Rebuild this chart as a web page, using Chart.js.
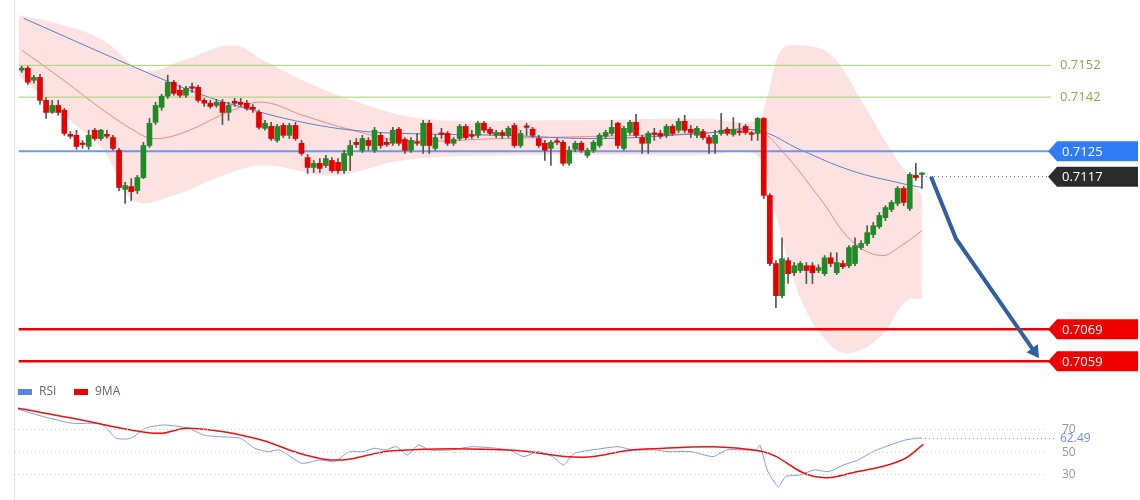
<!DOCTYPE html>
<html>
<head>
<meta charset="utf-8">
<script src="https://cdn.jsdelivr.net/npm/chart.js@4.4.1/dist/chart.umd.min.js"></script>
<style>
  body { margin: 0; background: #fff; }
  #wrap { position: relative; width: 1140px; height: 500px; }
  #price-box { position: absolute; left: 0; top: 0; width: 1140px; height: 380px; }
  #rsi-box { position: absolute; left: 0; top: 380px; width: 1140px; height: 120px; }
</style>
</head>
<body>
<div id="wrap">
  <div id="price-box"><canvas id="price-chart"></canvas></div>
  <div id="rsi-box"><canvas id="rsi-chart"></canvas></div>
</div>
<script>
// candles, oldest first (bar index = position in the arrays)
const opens = [0.71505,0.71511,0.71473,0.71482,0.71410,0.71372,0.71394,0.71379,0.71303,0.71300,0.71275,0.71265,0.71316,0.71290,0.71303,0.71293,0.71253,0.71130,0.71139,0.71126,0.71167,0.71268,0.71341,0.71388,0.71423,0.71467,0.71442,0.71426,0.71451,0.71451,0.71410,0.71401,0.71394,0.71404,0.71372,0.71407,0.71404,0.71401,0.71388,0.71372,0.71322,0.71328,0.71284,0.71331,0.71300,0.71331,0.71275,0.71230,0.71199,0.71212,0.71205,0.71221,0.71215,0.71189,0.71237,0.71278,0.71253,0.71284,0.71253,0.71300,0.71278,
  0.71275,0.71319,0.71287,0.71253,0.71278,0.71268,0.71338,0.71259,0.71306,0.71306,0.71275,0.71290,0.71328,0.71300,0.71300,0.71338,0.71319,0.71300,0.71309,0.71300,0.71331,0.71268,0.71328,0.71319,0.71290,0.71275,0.71259,0.71281,0.71278,0.71212,
  0.71256,0.71275,0.71237,0.71253,0.71268,0.71297,0.71306,0.71338,0.71259,0.71309,0.71341,0.71293,0.71275,0.71306,0.71306,0.71300,0.71328,0.71316,0.71344,0.71319,0.71300,0.71312,0.71293,0.71275,0.71306,0.71319,0.71303,0.71312,0.71328,0.71306,0.71306,0.71353,
  0.71111,0.70897,0.70796,0.70906,0.70868,0.70875,0.70890,0.70890,0.70875,0.70865,0.70915,0.70868,0.70897,0.70890,0.70897,0.70947,0.70960,0.70988,0.71013,0.71041,0.71067,0.71086,0.71133,0.71070,0.71174,0.71177];
const closes = [0.71511,0.71467,0.71482,0.71410,0.71372,0.71394,0.71372,0.71306,0.71297,0.71265,0.71271,0.71300,0.71290,0.71316,0.71297,0.71259,0.71136,0.71142,0.71123,0.71167,0.71268,0.71338,0.71394,0.71423,0.71467,0.71432,0.71426,0.71448,0.71448,0.71410,0.71401,0.71391,0.71404,0.71372,0.71394,0.71401,0.71397,0.71385,0.71382,0.71325,0.71338,0.71290,0.71328,0.71300,0.71331,0.71290,0.71243,0.71199,0.71212,0.71196,0.71227,0.71189,0.71189,0.71243,0.71268,0.71271,0.71290,0.71268,0.71316,0.71268,0.71271,
  0.71316,0.71275,0.71253,0.71284,0.71275,0.71338,0.71268,0.71293,0.71303,0.71275,0.71287,0.71328,0.71293,0.71297,0.71338,0.71316,0.71306,0.71309,0.71300,0.71322,0.71268,0.71306,0.71325,0.71300,0.71268,0.71253,0.71278,0.71278,0.71212,0.71253,
  0.71275,0.71253,0.71253,0.71278,0.71300,0.71309,0.71325,0.71268,0.71322,0.71341,0.71300,0.71275,0.71306,0.71303,0.71297,0.71328,0.71306,0.71344,0.71316,0.71309,0.71322,0.71293,0.71275,0.71300,0.71316,0.71306,0.71319,0.71309,0.71309,0.71303,0.71353,0.71111,
  0.70897,0.70796,0.70912,0.70865,0.70890,0.70897,0.70875,0.70868,0.70884,0.70915,0.70897,0.70900,0.70887,0.70947,0.70953,0.70960,0.70994,0.71016,0.71048,0.71073,0.71089,0.71133,0.71089,0.71177,0.71167,0.71177];
const highs = [0.71517,0.71517,0.71489,0.71492,0.71419,0.71410,0.71410,0.71385,0.71312,0.71316,0.71284,0.71316,0.71322,0.71319,0.71316,0.71300,0.71259,0.71152,0.71164,0.71174,0.71278,0.71353,0.71404,0.71429,0.71489,0.71473,0.71457,0.71454,0.71464,0.71457,0.71416,0.71410,0.71413,0.71413,0.71404,0.71416,0.71416,0.71410,0.71397,0.71379,0.71347,0.71341,0.71334,0.71338,0.71338,0.71341,0.71284,0.71240,0.71221,0.71227,0.71237,0.71230,0.71227,0.71253,0.71284,0.71290,0.71300,0.71293,0.71325,0.71309,0.71290,
  0.71325,0.71325,0.71293,0.71293,0.71306,0.71347,0.71347,0.71303,0.71322,0.71312,0.71293,0.71334,0.71334,0.71316,0.71344,0.71344,0.71325,0.71316,0.71316,0.71328,0.71338,0.71316,0.71338,0.71325,0.71300,0.71284,0.71284,0.71290,0.71284,0.71265,
  0.71281,0.71281,0.71259,0.71284,0.71306,0.71316,0.71347,0.71341,0.71328,0.71347,0.71366,0.71300,0.71312,0.71322,0.71316,0.71334,0.71334,0.71353,0.71363,0.71331,0.71328,0.71319,0.71300,0.71316,0.71369,0.71325,0.71356,0.71338,0.71334,0.71312,0.71356,0.71356,
  0.71117,0.70906,0.70978,0.70915,0.70900,0.70903,0.70900,0.70900,0.70893,0.70922,0.70931,0.70931,0.70906,0.70953,0.70978,0.70969,0.71016,0.71026,0.71057,0.71079,0.71095,0.71139,0.71139,0.71183,0.71212,0.71183];
const lows = [0.71498,0.71460,0.71464,0.71397,0.71353,0.71369,0.71363,0.71300,0.71290,0.71256,0.71259,0.71256,0.71284,0.71284,0.71290,0.71253,0.71126,0.71086,0.71095,0.71117,0.71164,0.71262,0.71334,0.71379,0.71416,0.71426,0.71419,0.71419,0.71435,0.71404,0.71391,0.71385,0.71388,0.71334,0.71347,0.71391,0.71391,0.71379,0.71372,0.71319,0.71316,0.71284,0.71278,0.71293,0.71290,0.71284,0.71237,0.71180,0.71183,0.71183,0.71199,0.71183,0.71180,0.71180,0.71189,0.71262,0.71246,0.71253,0.71246,0.71259,0.71265,
  0.71268,0.71268,0.71243,0.71246,0.71268,0.71243,0.71243,0.71253,0.71290,0.71268,0.71268,0.71284,0.71287,0.71290,0.71293,0.71309,0.71300,0.71293,0.71290,0.71293,0.71262,0.71262,0.71300,0.71293,0.71262,0.71221,0.71205,0.71271,0.71205,0.71205,
  0.71249,0.71246,0.71230,0.71246,0.71262,0.71290,0.71300,0.71259,0.71253,0.71303,0.71293,0.71243,0.71243,0.71284,0.71290,0.71293,0.71300,0.71309,0.71309,0.71293,0.71293,0.71287,0.71243,0.71243,0.71300,0.71300,0.71297,0.71300,0.71303,0.71284,0.71284,0.71101,
  0.70890,0.70758,0.70789,0.70834,0.70859,0.70868,0.70834,0.70834,0.70868,0.70859,0.70887,0.70862,0.70881,0.70884,0.70890,0.70941,0.70953,0.70978,0.71007,0.71032,0.71060,0.71079,0.71079,0.71063,0.71158,0.71133];

// bollinger bands and moving averages, [bar index, price]
const bandUpper = [[-0.5,0.71678],[6.9,0.71646],[13.4,0.71599],[20,0.71505],[26.6,0.71536],[34.7,0.71583],[39.7,0.71536],[46.2,0.71473],[54.4,0.71410],[65.9,0.71353],[87.2,0.71347],[111.8,0.71353],[120.8,0.71347],[122.4,0.71410],[124.9,0.71568],[128.2,0.71583],[133.1,0.71552],[138,0.71410],[142.9,0.71253],[148,0.71111]];
const bandLower = [[-0.5,0.71489],[6.9,0.71363],[13.4,0.71253],[18.4,0.71095],[24.9,0.71111],[33.1,0.71174],[39.7,0.71205],[51.1,0.71174],[62.6,0.71221],[79,0.71237],[111.8,0.71237],[120.8,0.71237],[123.3,0.71095],[128.2,0.70780],[133.1,0.70638],[136.4,0.70616],[141.3,0.70670],[145.4,0.70780],[148,0.70786]];
const slowMa = [[0.3,0.71668],[21.6,0.71489],[29.8,0.71426],[38,0.71379],[46.2,0.71341],[54.4,0.71316],[62.6,0.71306],[79,0.71300],[95.4,0.71290],[111.8,0.71306],[120.8,0.71316],[128.2,0.71253],[136.4,0.71189],[144.6,0.71149],[148,0.71136]];
const midMa = [[0,0.71568],[6.9,0.71473],[13.4,0.71379],[18.4,0.71316],[21.6,0.71290],[26.6,0.71309],[34.7,0.71379],[39.7,0.71404],[46.2,0.71363],[54.4,0.71316],[62.6,0.71284],[79,0.71290],[111.8,0.71306],[120.8,0.71316],[124.9,0.71253],[131.5,0.71095],[136.4,0.70969],[141.3,0.70922],[144.6,0.70953],[148,0.71000]];

// levels
const resistLevels = [0.7152, 0.7142];
const pivotLevel = 0.7125;
const lastPrice = 0.7117;
const supportLevels = [0.7069, 0.7059];
const forecast = [[149.5,0.7117],[153.6,0.70975],[166.5,0.7062]];

// rsi panel
const rsiLine = [[0,88],[4.2,81.4],[9,75.5],[13.7,74.9],[16.1,62.2],[18.5,62.2],[20.9,71.1],[23.9,74],[28,71.1],[30.4,65.1],[32.8,63.6],[36.4,62.2],[38.8,53.3],[41.1,50.3],[42.9,51.8],[46.5,40],[49.5,42.9],[51.9,41.4],[54.3,50.3],[56.6,50.3],[58.4,53.3],[60.2,51.8],[62,54.7],[63.8,47.3],[65.6,56.2],[67.4,51.8],[71,51.8],[74.5,54.7],[80.5,51.8],[82.9,45.9],[85.2,50.3],[87.6,45.9],[89.4,38.4],[91.2,48.8],[96,53.3],[98.4,54.7],[100.8,51.8],[104.3,51.8],[106.7,50.3],[110.3,50.3],[113.9,45.9],[116.2,51.8],[121,51.8],[121.6,56.2],[122.8,34],[124.6,19.2],[125.8,28.1],[128.2,29.6],[130.5,34],[132.9,32.6],[135.3,38.4],[137.7,42.9],[140.1,50.3],[143.7,57.7],[145.5,60.7],[147.3,62.2],[148,62.49]];
const rsiMa = [[0,88.8],[9,80],[18.5,69.6],[23.3,66.6],[28,71.1],[38.8,62.2],[47.1,47.3],[53.1,42.9],[61.4,51.2],[80.5,51.8],[92.4,45.3],[102,52.4],[121.6,50.9],[130.5,28.1],[137.7,32.6],[144.9,42.9],[148.4,56.8]];
const rsiTicks = [70, 50, 30];
const rsiLast = 62.49;

const X_MIN = -2.26, X_MAX = 182.54;
const RSI_X_MIN = -2.95, RSI_X_MAX = 183.9;
const LINE_END = 169.2;
const UP = "#1f8b24", DOWN = "#e60000";

const pts = (arr) => arr.map(([x, y]) => ({ x, y }));
const hline = (v) => [{ x: -0.5, y: v }, { x: LINE_END, y: v }];

const candleIdx = opens.map((_, i) => i);
const candleColors = candleIdx.map((i) => (closes[i] >= opens[i] ? UP : DOWN));

function tag(ctx, y, text, bg, fg) {
    const x0 = 1048, x1 = 1138, h = 20;
    ctx.fillStyle = bg;
    ctx.beginPath();
    ctx.moveTo(x0, y);
    ctx.lineTo(x0 + 9, y - h / 2);
    ctx.lineTo(x1, y - h / 2);
    ctx.lineTo(x1, y + h / 2);
    ctx.lineTo(x0 + 9, y + h / 2);
    ctx.closePath();
    ctx.fill();
    ctx.fillStyle = fg;
    ctx.font = "13px 'Open Sans', sans-serif";
    ctx.textBaseline = "middle";
    ctx.fillText(text, x0 + 14, y + 1);
}

const priceLabels = {
    id: "priceLabels",
    afterDraw(chart) {
        const { ctx, scales } = chart;
        const ys = scales.y;
        ctx.save();
        ctx.strokeStyle = "#e4e4e4";
        ctx.beginPath();
        ctx.moveTo(14.5, 0);
        ctx.lineTo(14.5, 380);
        ctx.stroke();
        ctx.font = "13px 'Open Sans', sans-serif";
        ctx.textBaseline = "middle";
        ctx.fillStyle = "#7cb342";
        resistLevels.forEach((v) => ctx.fillText(v.toFixed(4), 1060, ys.getPixelForValue(v)));
        tag(ctx, ys.getPixelForValue(pivotLevel), pivotLevel.toFixed(4), "#2f7cf6", "#fff");
        tag(ctx, ys.getPixelForValue(lastPrice), lastPrice.toFixed(4), "#2b2b2b", "#fff");
        supportLevels.forEach((v) => tag(ctx, ys.getPixelForValue(v), v.toFixed(4), "#ee0000", "#fff"));
        ctx.restore();
    },
};

new Chart(document.getElementById("price-chart").getContext("2d"), {
    type: "bar",
    data: {
        datasets: [
            { type: "line", data: pts(bandUpper), borderWidth: 0, backgroundColor: "rgba(250,190,190,0.45)", fill: "+1", tension: 0.4, pointRadius: 0, order: 20 },
            { type: "line", data: pts(bandLower), borderWidth: 0, fill: false, tension: 0.4, pointRadius: 0, order: 20 },
            { type: "line", data: pts(midMa), borderColor: "rgba(240,110,110,0.8)", borderWidth: 1, tension: 0.4, pointRadius: 0, order: 15 },
            { type: "line", data: pts(slowMa), borderColor: "#5a7fc8", borderWidth: 1, tension: 0.4, pointRadius: 0, order: 14 },
            ...resistLevels.map((v) => ({ type: "line", data: hline(v), borderColor: "#a5d36e", borderWidth: 1, pointRadius: 0, order: 12 })),
            { type: "line", data: hline(pivotLevel), borderColor: "#6f97f0", borderWidth: 2, pointRadius: 0, order: 12 },
            ...supportLevels.map((v) => ({ type: "line", data: hline(v), borderColor: "#ee0000", borderWidth: 2.5, pointRadius: 0, order: 12 })),
            { type: "line", data: [{ x: 148, y: lastPrice }, { x: LINE_END, y: lastPrice }], borderColor: "#555", borderWidth: 1, borderDash: [1, 3], pointRadius: 0, order: 12 },
            {
                type: "line", data: pts(forecast), borderColor: "#30609e", borderWidth: 4, order: 3,
                pointRadius: [0, 0, 8], pointStyle: "triangle", pointRotation: 145,
                pointBackgroundColor: "#30609e", pointBorderWidth: 0,
            },
            { data: candleIdx.map((i) => ({ x: i, y: [lows[i], highs[i]] })), backgroundColor: "#555", barThickness: 1, grouped: false, order: 2 },
            { data: candleIdx.map((i) => ({ x: i, y: [opens[i], closes[i]] })), backgroundColor: candleColors, barThickness: 5, minBarLength: 1.5, grouped: false, order: 1 },
        ],
    },
    options: {
        responsive: true,
        maintainAspectRatio: false,
        animation: false,
        layout: { padding: 0 },
        plugins: { legend: { display: false }, tooltip: { enabled: false } },
        scales: {
            x: { type: "linear", min: X_MIN, max: X_MAX, offset: false, display: false },
            y: { min: 0.705559, max: 0.717003, display: false },
        },
    },
    plugins: [priceLabels],
});

const rsiLabels = {
    id: "rsiLabels",
    afterDraw(chart) {
        const { ctx, scales } = chart;
        const ys = scales.y, xs = scales.x;
        ctx.save();
        ctx.strokeStyle = "#cfcfcf";
        ctx.setLineDash([1, 3]);
        ctx.font = "12px 'Open Sans', sans-serif";
        ctx.textBaseline = "middle";
        rsiTicks.forEach((t) => {
            const y = Math.round(ys.getPixelForValue(t)) + 0.5;
            ctx.beginPath();
            ctx.moveTo(15, y);
            ctx.lineTo(1045, y);
            ctx.stroke();
            ctx.fillStyle = "#999";
            ctx.fillText(String(t), 1062, y);
        });
        const ly = Math.round(ys.getPixelForValue(rsiLast)) + 0.5;
        ctx.strokeStyle = "#6d8fe0";
        ctx.beginPath();
        ctx.moveTo(xs.getPixelForValue(148), ly);
        ctx.lineTo(1055, ly);
        ctx.stroke();
        ctx.fillStyle = "#6d8fe0";
        ctx.fillText(rsiLast.toFixed(2), 1060, ly);
        ctx.setLineDash([]);
        ctx.strokeStyle = "#e4e4e4";
        ctx.beginPath();
        ctx.moveTo(14.5, 0);
        ctx.lineTo(14.5, 120);
        ctx.stroke();
        // legend
        ctx.fillStyle = "#5b84e0";
        ctx.fillRect(18, 9, 14, 6);
        ctx.fillStyle = "#ee0000";
        ctx.fillRect(74, 9, 14, 6);
        ctx.fillStyle = "#666";
        ctx.fillText("RSI", 39, 12);
        ctx.fillText("9MA", 95, 12);
        ctx.restore();
    },
};

new Chart(document.getElementById("rsi-chart").getContext("2d"), {
    type: "line",
    data: {
        datasets: [
            { data: pts(rsiMa), borderColor: "#ee1010", borderWidth: 1.5, tension: 0.4, pointRadius: 0 },
            { data: pts(rsiLine), borderColor: "#7b9ee6", borderWidth: 1, tension: 0.2, pointRadius: 0 },
        ],
    },
    options: {
        responsive: true,
        maintainAspectRatio: false,
        animation: false,
        layout: { padding: 0 },
        plugins: { legend: { display: false }, tooltip: { enabled: false } },
        scales: {
            x: { type: "linear", min: RSI_X_MIN, max: RSI_X_MAX, display: false },
            y: { min: 7.3, max: 114, display: false },
        },
    },
    plugins: [rsiLabels],
});
</script>
</body>
</html>
